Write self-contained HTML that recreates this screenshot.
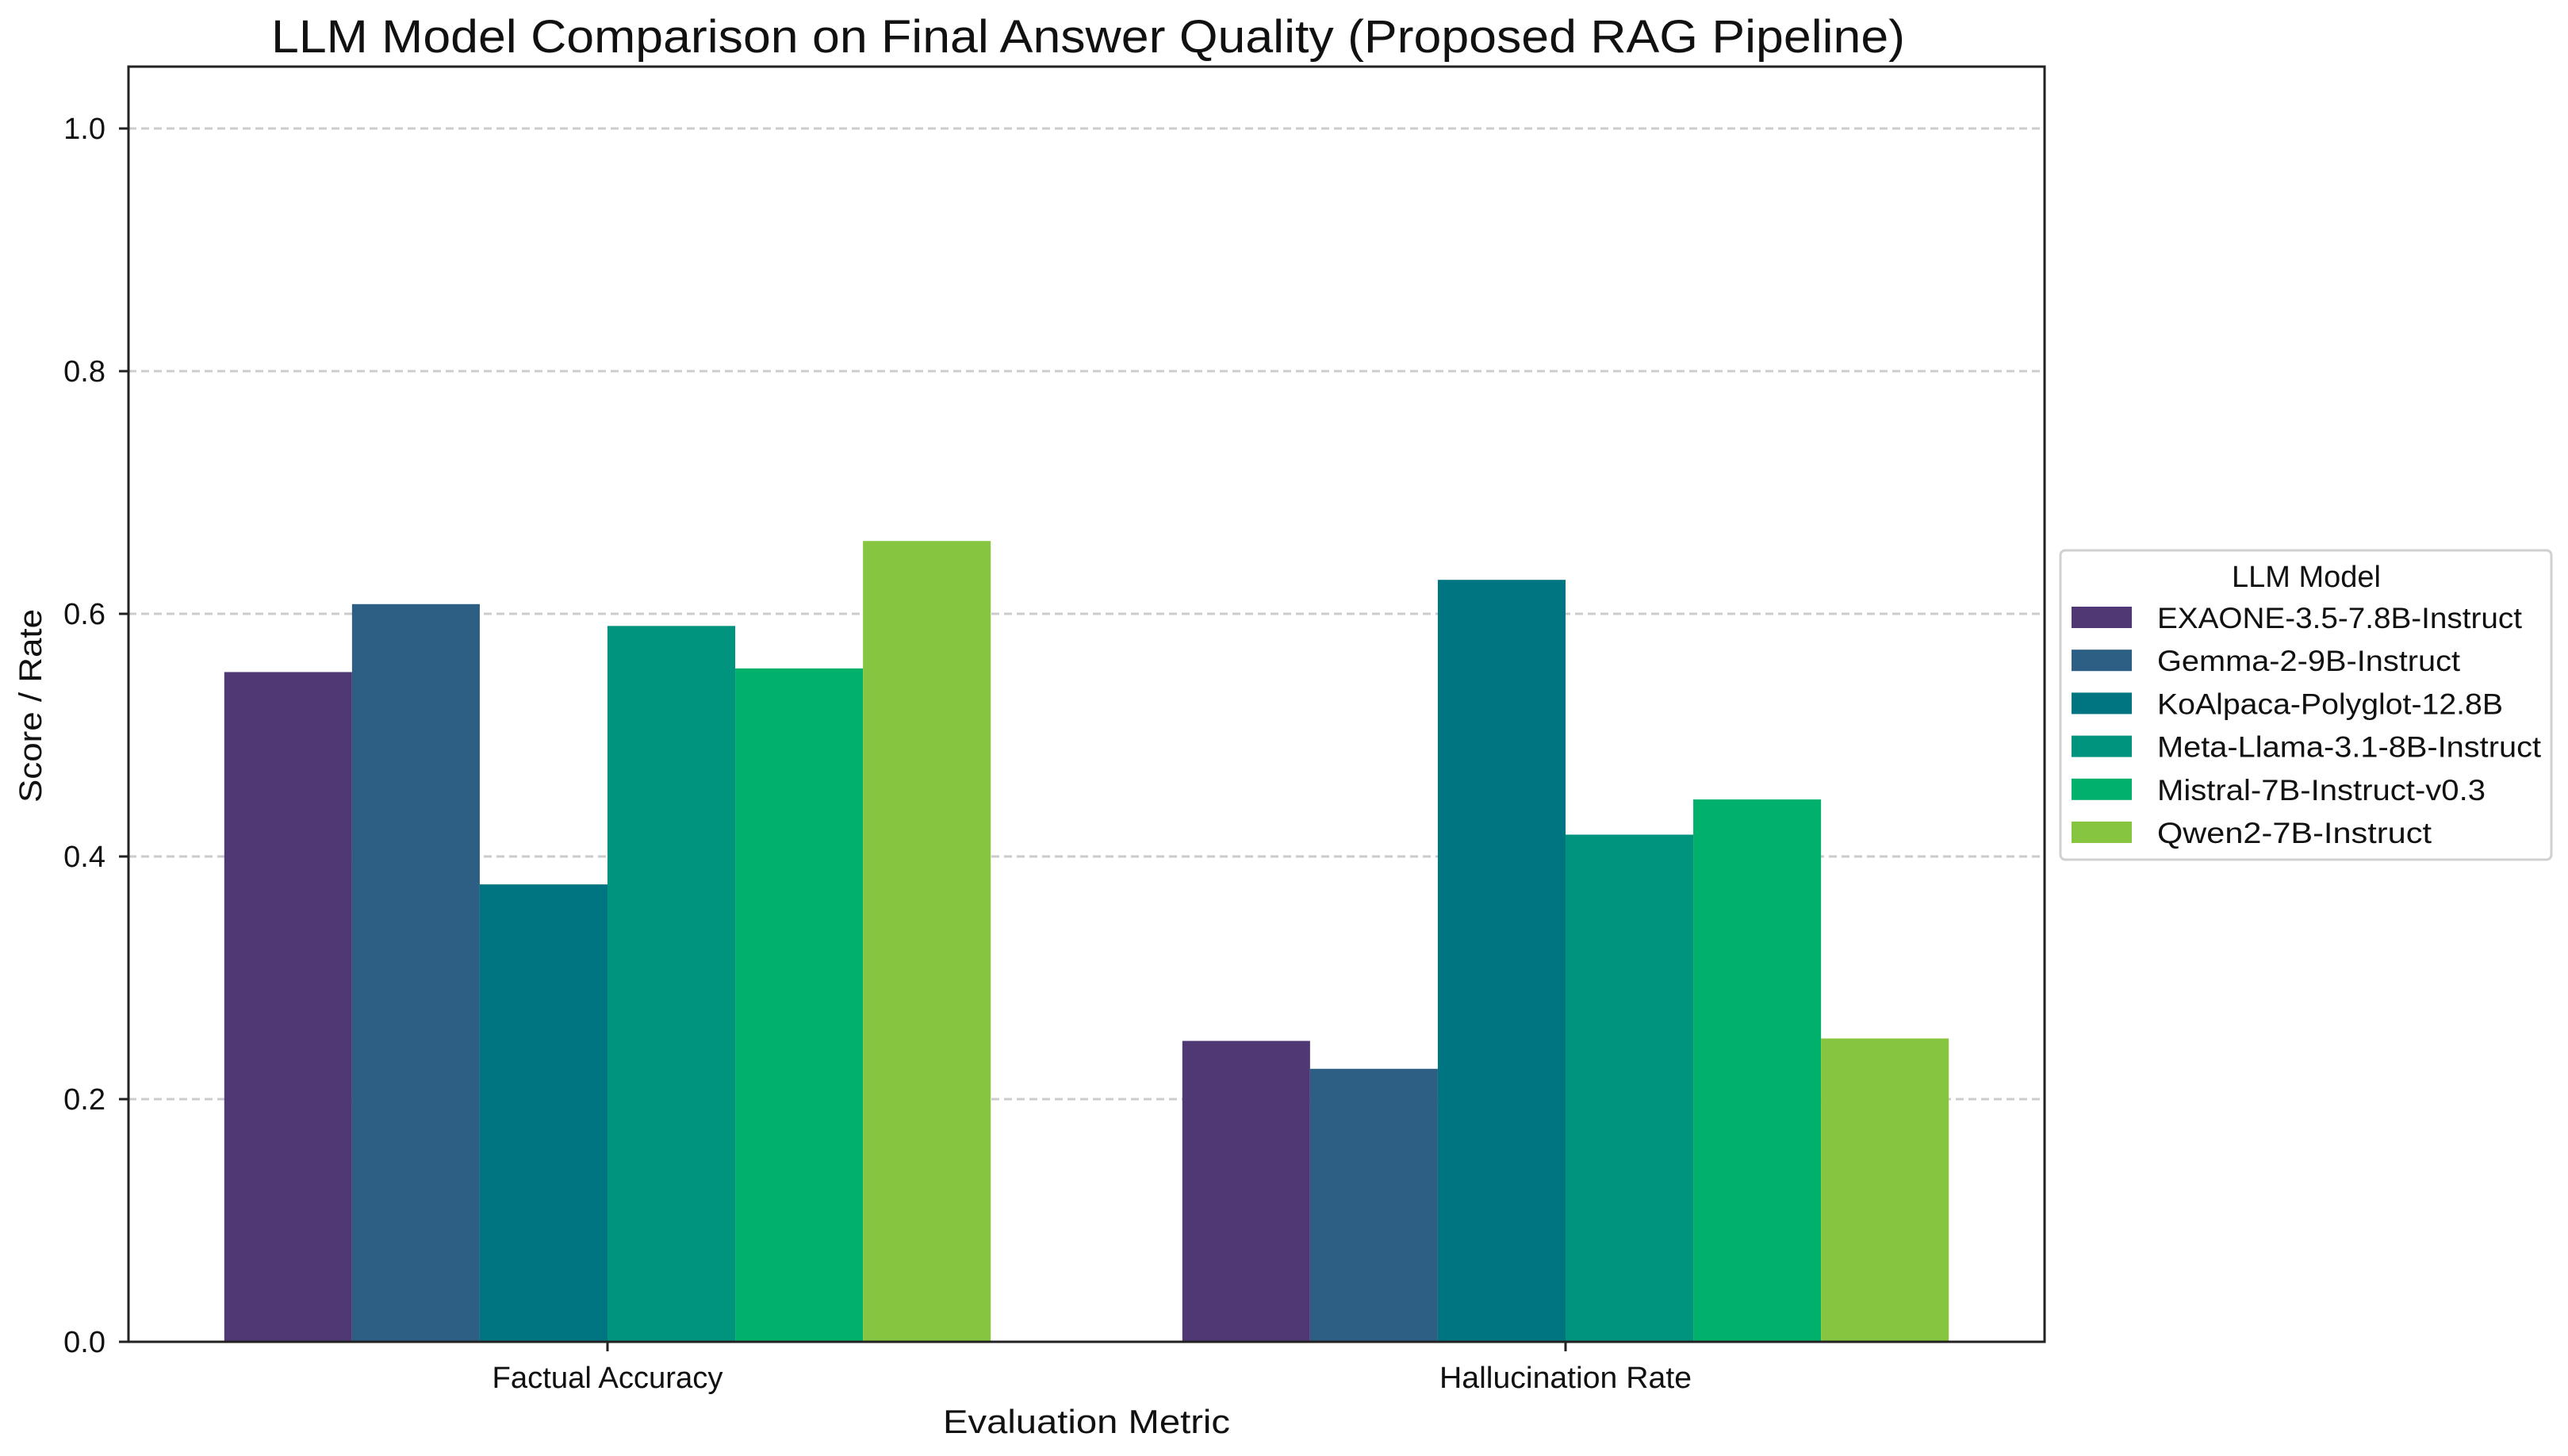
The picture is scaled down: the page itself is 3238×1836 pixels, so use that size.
<!DOCTYPE html>
<html><head><meta charset="utf-8"><style>
html,body{margin:0;padding:0;background:#fff;}
svg text{font-family:"Liberation Sans","NanumGothic",sans-serif;fill:#111;}
</style></head><body>
<svg id="chart" width="3238" height="1831" viewBox="0 0 3238 1831" xmlns="http://www.w3.org/2000/svg">
<rect width="3238" height="1831" fill="#fff"/>
<text x="1372" y="66" font-size="58" text-anchor="middle" textLength="2060" lengthAdjust="spacingAndGlyphs">LLM Model Comparison on Final Answer Quality (Proposed RAG Pipeline)</text>
<g id="grid"></g>
<g id="bars"></g>
<g id="axes"></g>
<text x="1370" y="1807" font-size="42" text-anchor="middle" textLength="362" lengthAdjust="spacingAndGlyphs">Evaluation Metric</text>
<text transform="translate(52,890) rotate(-90)" font-size="40" text-anchor="middle" textLength="244" lengthAdjust="spacingAndGlyphs">Score / Rate</text>
<g id="legend"></g>
</svg>
<script>
const categories = ["Factual Accuracy", "Hallucination Rate"];
const models = ["EXAONE-3.5-7.8B-Instruct","Gemma-2-9B-Instruct","KoAlpaca-Polyglot-12.8B","Meta-Llama-3.1-8B-Instruct","Mistral-7B-Instruct-v0.3","Qwen2-7B-Instruct"];
const factualValues = [0.552, 0.608, 0.377, 0.590, 0.555, 0.660];
const hallucinationValues = [0.248, 0.225, 0.628, 0.418, 0.447, 0.250];
const yTicks = [0.0, 0.2, 0.4, 0.6, 0.8, 1.0];
const yTickLabels = ["0.0","0.2","0.4","0.6","0.8","1.0"];
const colors = ["#4f3873","#2d5e84","#007582","#00937e","#00b06b","#86c540"];

const NS = "http://www.w3.org/2000/svg";
const L = 162, R = 2578, T = 84, B = 1692;
const xMin = -0.5, xMax = 1.5, yMin = 0, yMax = 1.051;
const xs = v => L + (v - xMin) / (xMax - xMin) * (R - L);
const ys = v => B - (v - yMin) / (yMax - yMin) * (B - T);
function mk(tag, attrs, parent){ const e=document.createElementNS(NS,tag); for(const k in attrs) e.setAttribute(k,attrs[k]); parent.appendChild(e); return e; }

const grid = document.getElementById('grid');
const axes = document.getElementById('axes');
yTicks.forEach((t,i)=>{
  if (t > 0) {
    const g = mk('line',{x1:L,x2:R,y1:ys(t),y2:ys(t),stroke:'#cccccc','stroke-width':3,'stroke-dasharray':'10,6'},grid);
    
    
  }
  const tk = mk('line',{x1:L-12,x2:L,y1:ys(t),y2:ys(t),stroke:'#222','stroke-width':3},axes);
  
  
  const lb = mk('text',{x:133,y:ys(t)+13,'font-size':38,'text-anchor':'end'},axes);
  lb.textContent = yTickLabels[i];
  
  
});

const bars = document.getElementById('bars');
const seriesByCat = [factualValues, hallucinationValues];
const groupW = 0.8, bw = groupW / models.length;
categories.forEach((c,ci)=>{
  models.forEach((m,mi)=>{
    const v = seriesByCat[ci][mi];
    const x0 = xs(ci - groupW/2 + mi*bw), x1 = xs(ci - groupW/2 + (mi+1)*bw);
    const r = mk('rect',{x:x0,y:ys(v),width:x1-x0,height:ys(0)-ys(v),fill:colors[mi]},bars);
    
    
  });
  const tk = mk('line',{x1:xs(ci),x2:xs(ci),y1:B,y2:B+12,stroke:'#222','stroke-width':3},axes);
  
  
  const lb = mk('text',{x:xs(ci),y:1750,'font-size':38,'text-anchor':'middle',textLength:ci===0?291:318,lengthAdjust:'spacingAndGlyphs'},axes);
  lb.textContent = c;
  
  
});
const frame = mk('rect',{x:L,y:T,width:R-L,height:B-T,fill:'none',stroke:'#222','stroke-width':3},axes);



const lg = document.getElementById('legend');
const box = mk('rect',{x:2598,y:694,width:619,height:390,rx:6,fill:'#fff',stroke:'#d0d0d0','stroke-width':3},lg);


const lt = mk('text',{x:2908,y:740,'font-size':38,'text-anchor':'middle'},lg);
lt.textContent = 'LLM Model';


const textW = [460,382,436,484,414,346];
models.forEach((m,i)=>{
  const cy = 779 + i*54.2;
  const sw = mk('rect',{x:2612,y:cy-14,width:76,height:27,fill:colors[i]},lg);
  
  
  const t = mk('text',{x:2720,y:cy+13,'font-size':37,textLength:textW[i],lengthAdjust:'spacingAndGlyphs'},lg);
  t.textContent = m;
  
  
});
</script>
</body></html>
